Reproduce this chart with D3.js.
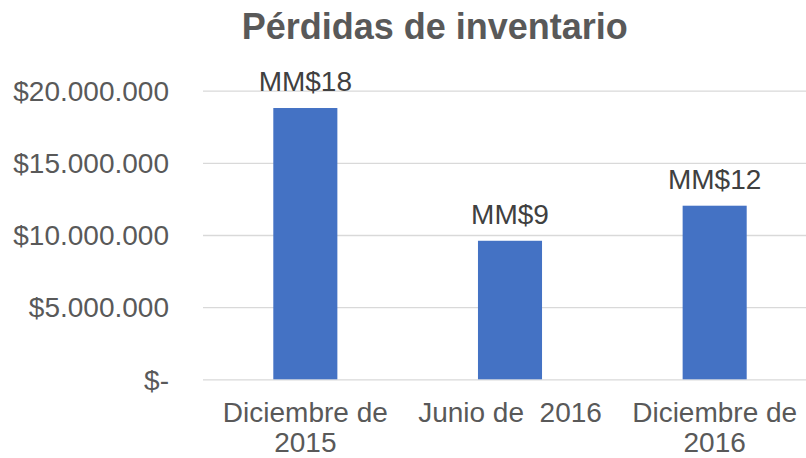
<!DOCTYPE html>
<html>
<head>
<meta charset="utf-8">
<script src="https://cdn.jsdelivr.net/npm/d3@7"></script>
<style>
  html, body { margin: 0; padding: 0; background: #fff; }
  svg { display: block; font-family: "Liberation Sans", Arial, sans-serif; }
</style>
</head>
<body>
<svg id="chart" width="806" height="458"></svg>
<script>
const title = "Pérdidas de inventario";
const categories = ["Diciembre de 2015", "Junio de  2016", "Diciembre de 2016"];
const categoryLines = [["Diciembre de", "2015"], ["Junio de  2016"], ["Diciembre de", "2016"]];
const values = [18800000, 9600000, 12030000];
const dataLabels = ["MM$18", "MM$9", "MM$12"];
const yTicks = [0, 5000000, 10000000, 15000000, 20000000];

const svg = d3.select("#chart");
const plot = { left: 203, right: 817, top: 90.7, bottom: 379.3 };
const textColor = "#595959";
const fontSize = "28px";

const x = d3.scaleBand()
  .domain(categories)
  .range([plot.left, plot.right])
  .paddingInner(0.687)
  .paddingOuter(0.3435);

const y = d3.scaleLinear()
  .domain([0, 20000000])
  .range([plot.bottom, plot.top]);

const fmt = v => v === 0 ? "$-" : "$" + d3.format(",")(v).replace(/,/g, ".");

// Y axis with gridlines
const yAxis = d3.axisLeft(y)
  .tickValues(yTicks)
  .tickFormat(fmt)
  .tickSizeInner(-(plot.right - plot.left))
  .tickSizeOuter(0)
  .tickPadding(34);

const gy = svg.append("g")
  .attr("transform", `translate(${plot.left},0)`)
  .call(yAxis);
gy.select(".domain").remove();
gy.selectAll(".tick line")
  .attr("stroke", "#d9d9d9")
  .attr("stroke-width", 1.3);
gy.selectAll(".tick text")
  .attr("fill", textColor)
  .attr("font-size", fontSize)
  .attr("font-family", '"Liberation Sans", Arial, sans-serif')
  .attr("dy", "0.35em");

// Bars
svg.append("g").selectAll("rect")
  .data(values)
  .join("rect")
  .attr("x", (d, i) => x(categories[i]))
  .attr("y", d => y(d))
  .attr("width", x.bandwidth())
  .attr("height", d => y(0) - y(d))
  .attr("fill", "#4472C4");

// Data labels
svg.append("g").selectAll("text")
  .data(values)
  .join("text")
  .attr("x", (d, i) => x(categories[i]) + x.bandwidth() / 2)
  .attr("y", d => y(d) - 17)
  .attr("text-anchor", "middle")
  .attr("font-size", fontSize)
  .attr("fill", "#404040")
  .text((d, i) => dataLabels[i]);

// X axis labels
const xAxis = d3.axisBottom(x)
  .tickSize(0)
  .tickFormat(() => "");
const gx = svg.append("g")
  .attr("transform", `translate(0,${plot.bottom})`)
  .call(xAxis);
gx.select(".domain").remove();
gx.selectAll(".tick").each(function(d, i) {
  const t = d3.select(this).select("text")
    .attr("fill", textColor)
    .attr("font-size", fontSize)
    .attr("font-family", '"Liberation Sans", Arial, sans-serif')
    .attr("text-anchor", "middle")
    .attr("y", 0)
    .attr("dy", null)
    .style("white-space", "pre")
    .attr("xml:space", "preserve");
  categoryLines[i].forEach((line, k) => {
    t.append("tspan")
      .attr("x", 0)
      .attr("y", 42.4 + k * 30)
      .text(line);
  });
});

// Title
svg.append("text")
  .attr("x", 434.7)
  .attr("y", 39.3)
  .attr("text-anchor", "middle")
  .attr("font-size", "36px")
  .attr("font-weight", "bold")
  .attr("fill", textColor)
  .text(title);
</script>
</body>
</html>
